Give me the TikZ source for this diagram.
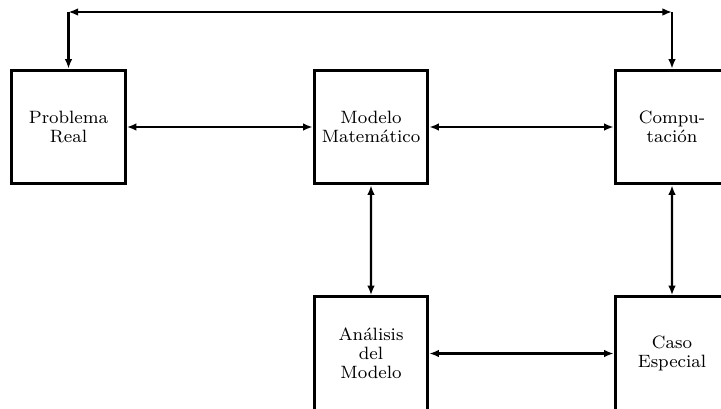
\documentclass[tikz,border=0pt]{standalone}
\usetikzlibrary{arrows.meta}
\begin{document}
\begin{tikzpicture}[x=0.52pt,y=-0.52pt,
  blk/.style={draw,line width=1.4pt,scale=1.16,transform shape,minimum width=50.9pt,minimum height=50.9pt,text width=48pt,align=center,inner sep=0pt,font=\fontsize{8}{8.5}\selectfont},
  link/.style={line width=1.1pt,{Latex[length=5pt,width=4pt]}-{Latex[length=5pt,width=4pt]}},
  onearrow/.style={line width=1.1pt,-{Latex[length=5pt,width=4pt]}}]
\useasboundingbox (0,0) rectangle (721,408);
\clip (0,0) rectangle (721,408);
\node[blk] (pr) at (68.5,127) {Problema\\Real};
\node[blk] (mm) at (371,127) {Modelo\\Matemático};
\node[blk] (co) at (672,127) {Compu-\\tación};
\node[blk] (an) at (371,353.5) {Análisis\\del\\Modelo};
\node[blk] (ce) at (672,353.5) {Caso\\Especial};
\coordinate (tl) at (68.5,12);
\coordinate (tr) at (672,12);
\draw[link] (pr) -- (mm);
\draw[link] (mm) -- (co);
\draw[link] (mm) -- (an);
\draw[link] (co) -- (ce);
\draw[link] (an) -- (ce);
\draw[link] (tl) -- (tr);
\draw[onearrow] (tl) -- (pr.north);
\draw[onearrow] (tr) -- (co.north);
\end{tikzpicture}
\end{document}
